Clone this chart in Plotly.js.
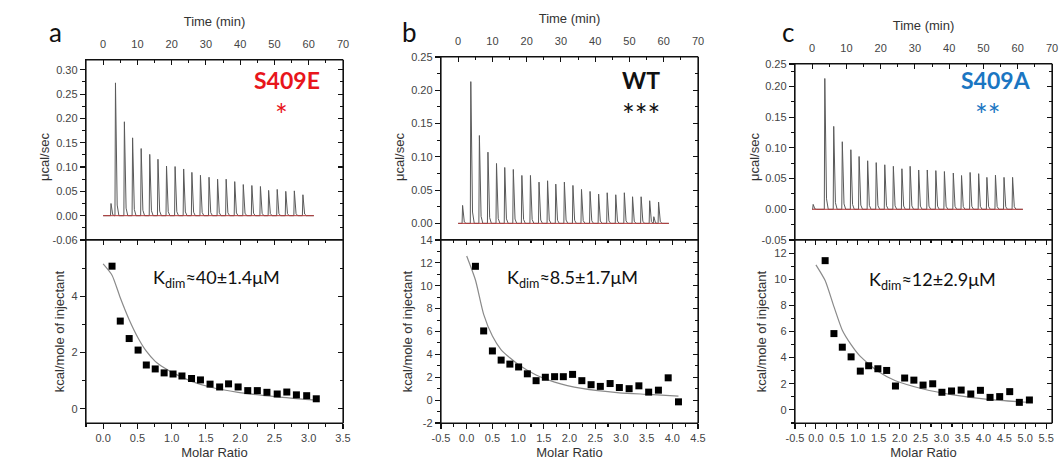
<!DOCTYPE html>
<html><head><meta charset="utf-8">
<script src="https://cdn.plot.ly/plotly-3.0.1.min.js"></script>
<style>html,body{margin:0;padding:0;background:#fff}</style>
</head><body><div id="chart" style="width:1062px;height:468px"></div>
<script>
// ---------- DATA ----------
// raw ITC thermograms: injection times (min) and peak heights (µcal/sec)
const timeA  = [2.3, 3.6, 6.2, 8.6, 11.1, 13.6, 16.0, 18.5, 21.0, 23.5, 25.9, 28.4, 30.9, 33.4, 35.9, 38.4, 40.9, 43.4, 45.9, 48.3, 50.8, 53.3, 55.8, 58.3];
const powerA = [0.025, 0.273, 0.193, 0.160, 0.138, 0.126, 0.116, 0.102, 0.101, 0.096, 0.089, 0.083, 0.079, 0.075, 0.075, 0.070, 0.064, 0.062, 0.060, 0.052, 0.054, 0.050, 0.051, 0.043];
const timeB  = [1.3, 3.7, 6.2, 8.7, 11.2, 13.6, 16.1, 18.6, 21.1, 23.6, 26.1, 28.5, 31.0, 33.5, 36.0, 38.5, 41.0, 43.5, 46.0, 48.5, 50.9, 53.4, 55.9, 57.1, 58.5];
const powerB = [0.027, 0.213, 0.132, 0.107, 0.090, 0.084, 0.081, 0.072, 0.072, 0.062, 0.064, 0.059, 0.062, 0.057, 0.051, 0.048, 0.044, 0.046, 0.043, 0.046, 0.040, 0.040, 0.034, 0.010, 0.032];
const timeC  = [0.3, 3.7, 6.3, 8.8, 11.3, 13.7, 16.2, 18.7, 21.2, 23.7, 26.2, 28.6, 31.1, 33.6, 36.1, 38.6, 41.2, 43.6, 46.1, 48.6, 51.0, 53.5, 56.0, 58.5];
const powerC = [0.008, 0.213, 0.135, 0.110, 0.097, 0.086, 0.079, 0.076, 0.0725, 0.070, 0.066, 0.070, 0.064, 0.064, 0.063, 0.0615, 0.059, 0.055, 0.060, 0.058, 0.052, 0.0555, 0.052, 0.052];
const runEnd = [61.5, 61.5, 61.5];

// integrated heats (kcal/mole of injectant) vs molar ratio
const ratioA = [0.13, 0.25, 0.38, 0.51, 0.63, 0.76, 0.89, 1.02, 1.15, 1.29, 1.42, 1.56, 1.70, 1.83, 1.97, 2.11, 2.25, 2.39, 2.54, 2.68, 2.82, 2.97, 3.11];
const heatA  = [5.07, 3.12, 2.50, 2.09, 1.56, 1.42, 1.28, 1.24, 1.17, 1.08, 1.03, 0.88, 0.78, 0.89, 0.78, 0.65, 0.65, 0.59, 0.53, 0.60, 0.50, 0.47, 0.36];
const ratioB = [0.17, 0.33, 0.50, 0.67, 0.84, 1.01, 1.18, 1.35, 1.53, 1.71, 1.88, 2.06, 2.24, 2.42, 2.60, 2.79, 2.97, 3.16, 3.35, 3.54, 3.73, 3.92, 4.12];
const heatB  = [11.7, 6.05, 4.3, 3.5, 3.15, 2.9, 2.3, 1.7, 2.0, 2.05, 2.05, 2.25, 1.7, 1.35, 1.2, 1.45, 1.1, 1.0, 1.25, 0.7, 0.87, 1.95, -0.15];
const ratioC = [0.22, 0.43, 0.63, 0.84, 1.06, 1.26, 1.48, 1.69, 1.90, 2.12, 2.34, 2.56, 2.79, 3.01, 3.24, 3.47, 3.70, 3.93, 4.16, 4.39, 4.63, 4.86, 5.10];
const heatC  = [11.42, 5.84, 4.8, 4.06, 2.97, 3.38, 3.15, 3.02, 1.83, 2.44, 2.28, 1.9, 2.0, 1.35, 1.45, 1.52, 1.22, 1.5, 0.96, 1.02, 1.4, 0.58, 0.76];

// fitted dimer-dissociation curves
const fitXA = [0, 0.13, 0.25, 0.38, 0.51, 0.63, 0.76, 0.89, 1.02, 1.29, 1.56, 1.97, 2.54, 3.11];
const fitYA = [5.15, 4.75, 3.95, 3.17, 2.52, 2.05, 1.69, 1.46, 1.28, 0.98, 0.78, 0.59, 0.43, 0.31];
const fitXB = [0, 0.17, 0.33, 0.50, 0.67, 0.84, 1.01, 1.35, 1.71, 2.24, 2.97, 3.54, 4.12];
const fitYB = [12.6, 10.5, 7.5, 5.6, 4.4, 3.7, 3.1, 2.2, 1.57, 1.02, 0.64, 0.5, 0.35];
const fitXC = [0, 0.22, 0.43, 0.63, 0.84, 1.06, 1.48, 1.90, 2.56, 3.24, 4.16, 5.10];
const fitYC = [11.1, 9.9, 7.9, 6.1, 5.0, 4.1, 2.95, 2.23, 1.6, 1.17, 0.79, 0.58];

// labels
const panelLetters = ['a', 'b', 'c'];
const variantNames = ['S409E', 'WT', 'S409A'];
const significance = ['*', '***', '**'];
const kdimLabels   = ['K<sub>dim</sub>≈40±1.4μM', 'K<sub>dim</sub>≈8.5±1.7μM', 'K<sub>dim</sub>≈12±2.9μM'];
const powerTitle = 'μcal/sec';
const timeTickLabels = ['0', '10', '20', '30', '40', '50', '60', '70'];
const powerTickVals = [[-0.05, 0, 0.05, 0.10, 0.15, 0.20, 0.25, 0.30], [0, 0.05, 0.10, 0.15, 0.20, 0.25], [-0.05, 0, 0.05, 0.10, 0.15, 0.20, 0.2366]];
const powerTickText = [['-0.06', '0.00', '0.05', '0.10', '0.15', '0.20', '0.25', '0.30'], ['0.00', '0.05', '0.10', '0.15', '0.20', '0.25'], ['-0.05', '0.00', '0.05', '0.10', '0.15', '0.20', '0.25']];
const ratioTickText = [
  ['0.0', '0.5', '1.0', '1.5', '2.0', '2.5', '3.0', '3.5'],
  ['-0.5', '0.0', '0.5', '1.0', '1.5', '2.0', '2.5', '3.0', '3.5', '4.0', '4.5'],
  ['-0.5', '0.0', '0.5', '1.0', '1.5', '2.0', '2.5', '3.0', '3.5', '4.0', '4.5', '5.0', '5.5']];
const heatTickText = [
  ['0', '2', '4'],
  ['-2', '0', '2', '4', '6', '8', '10', '12', '14'],
  ['0', '2', '4', '6', '8', '10', '12']];

// ---------- STYLE / LAYOUT ----------
const W = 1062, H = 468;
const FONT = 'Liberation Sans, Arial, sans-serif';
const LFONT = 'Lato, Open Sans, sans-serif';
const AXC = '#111';
const variantColors = ['#e8151b', '#111111', '#1b76c2'];

const panels = [
  {frame: [86, 343], top: 60, powerRange: [-0.05, 0.320], ratioRange: [-0.25, 3.5], heatRange: [-0.5, 6], r: timeA, p: powerA, rx: ratioA, hy: heatA, fx: fitXA, fy: fitYA},
  {frame: [441, 698], top: 57, powerRange: [-0.025, 0.25], ratioRange: [-0.5, 4.5], heatRange: [-2, 14], r: timeB, p: powerB, rx: ratioB, hy: heatB, fx: fitXB, fy: fitYB},
  {frame: [795, 1052], top: 64, powerRange: [-0.05, 0.2366], ratioRange: [-0.5, 5.64], heatRange: [-1, 13], r: timeC, p: powerC, rx: ratioC, hy: heatC, fx: fitXC, fy: fitYC}
];

// spike shape used to draw each injection peak from its time and height
const SPIKE_DT = [-0.15, 0, 0.2, 0.5, 1.0];
const SPIKE_F  = [0, 1, 0.35, 0.08, 0];
function thermogram(times, heights, tEnd) {
  const x = [0], y = [0];
  times.forEach((tt, i) => SPIKE_DT.forEach((d, j) => { x.push(tt + d); y.push(heights[i] * SPIKE_F[j]); }));
  x.push(tEnd); y.push(0);
  return {x, y};
}

function ax(extra) {
  return Object.assign({
    showline: true, linecolor: AXC, linewidth: 1.2, mirror: false, showgrid: false, zeroline: false,
    ticklen: 5, tickwidth: 1.1, tickcolor: AXC, fixedrange: true,
    tickfont: {family: FONT, size: 11, color: '#444'}
  }, extra);
}
const titleFont = {family: FONT, size: 13, color: '#333'};
const xid = n => n === 1 ? 'x' : 'x' + n, yid = n => n === 1 ? 'y' : 'y' + n;
const xkey = n => n === 1 ? 'xaxis' : 'xaxis' + n, ykey = n => n === 1 ? 'yaxis' : 'yaxis' + n;

const layout = {width: W, height: H, margin: {l: 0, r: 0, t: 0, b: 0}, showlegend: false,
  paper_bgcolor: '#fff', plot_bgcolor: 'rgba(0,0,0,0)', annotations: [], shapes: []};
const traces = [];

panels.forEach((P, i) => {
  const xT = i * 3 + 1, xB = i * 3 + 2, xB2 = i * 3 + 3;
  const yT = i * 4 + 1, yTR = i * 4 + 2, yB = i * 4 + 3, yBR = i * 4 + 4;
  const xd = [P.frame[0] / W, P.frame[1] / W];
  const ydT = [1 - 240 / H, 1 - P.top / H];
  const ydB = [1 - 423 / H, 1 - 240 / H];

  layout[xkey(xT)] = ax({domain: xd, anchor: yid(yT), side: 'top', range: [-5, 70],
    tickmode: 'array', tickvals: timeTickLabels.map(Number), ticktext: timeTickLabels, ticks: 'inside', ticklabelstandoff: 6,
    minor: {ticks: 'inside', ticklen: 3, tickmode: 'linear', tick0: 0, dtick: 5, tickcolor: AXC},
    title: {text: 'Time (min)', font: titleFont, standoff: 8}});
  layout[ykey(yT)] = ax({domain: ydT, anchor: xid(xT), side: 'left', range: P.powerRange,
    tickmode: 'array', tickvals: powerTickVals[i], ticktext: powerTickText[i], ticks: 'outside',
    minor: {ticks: 'outside', ticklen: 3, tickmode: 'linear', tick0: 0, dtick: 0.025, tickcolor: AXC}});
  // right-hand twin of the power axis (inward ticks)
  layout[ykey(yTR)] = ax({domain: ydT, anchor: xid(xT), side: 'right', range: P.powerRange,
    tickmode: 'linear', tick0: 0, dtick: 0.05, ticks: 'inside', showticklabels: false,
    minor: {ticks: 'inside', ticklen: 3, tickmode: 'linear', tick0: 0, dtick: 0.025, tickcolor: AXC}});
  layout[xkey(xB)] = ax({domain: xd, anchor: yid(yB), side: 'bottom', range: P.ratioRange,
    tickmode: 'array', tickvals: ratioTickText[i].map(Number), ticktext: ratioTickText[i], ticks: 'outside',
    minor: {ticks: 'outside', ticklen: 3, tickmode: 'linear', tick0: 0, dtick: 0.25, tickcolor: AXC},
    title: {text: 'Molar Ratio', font: titleFont, standoff: 4}});
  // top twin of the molar-ratio axis (inward ticks)
  layout[xkey(xB2)] = ax({domain: xd, anchor: yid(yBR), side: 'top', range: P.ratioRange,
    tickmode: 'linear', tick0: 0, dtick: 0.5, ticks: 'inside', showticklabels: false,
    minor: {ticks: 'inside', ticklen: 3, tickmode: 'linear', tick0: 0, dtick: 0.25, tickcolor: AXC}});
  layout[ykey(yB)] = ax({domain: ydB, anchor: xid(xB), side: 'left', range: P.heatRange,
    tickmode: 'array', tickvals: heatTickText[i].map(Number), ticktext: heatTickText[i], ticks: 'outside',
    minor: {ticks: 'outside', ticklen: 3, tickmode: 'linear', tick0: 0, dtick: 1, tickcolor: AXC},
    title: {text: 'kcal/mole of injectant', font: titleFont, standoff: 4}});
  // right twin of the heat axis (inward ticks)
  layout[ykey(yBR)] = ax({domain: ydB, anchor: xid(xB2), side: 'right', range: P.heatRange,
    tickmode: 'linear', tick0: 0, dtick: 2, ticks: 'inside', showticklabels: false,
    minor: {ticks: 'inside', ticklen: 3, tickmode: 'linear', tick0: 0, dtick: 1, tickcolor: AXC}});

  const th = thermogram(P.r, P.p, runEnd[i]);
  traces.push({type: 'scatter', mode: 'lines', x: th.x, y: th.y, xaxis: xid(xT), yaxis: yid(yT),
    line: {color: '#5a5a5a', width: 1}, hoverinfo: 'skip'});
  traces.push({type: 'scatter', mode: 'lines', x: [0, runEnd[i]], y: [0, 0], xaxis: xid(xT), yaxis: yid(yT),
    line: {color: '#b53a3a', width: 1}, hoverinfo: 'skip'});
  traces.push({type: 'scatter', mode: 'lines', x: P.fx, y: P.fy, xaxis: xid(xB), yaxis: yid(yB),
    line: {color: '#8a8a8a', width: 1.2, shape: 'spline', smoothing: 0.6}, hoverinfo: 'skip'});
  traces.push({type: 'scatter', mode: 'markers', x: P.rx, y: P.hy, xaxis: xid(xB), yaxis: yid(yB),
    marker: {symbol: 'square', size: 7, color: '#000'}, hoverinfo: 'skip'});
  // empty traces on the twin axes so their frame lines and ticks are drawn
  traces.push({type: 'scatter', mode: 'markers', x: [null], y: [null], xaxis: xid(xT), yaxis: yid(yTR), hoverinfo: 'skip'});
  traces.push({type: 'scatter', mode: 'markers', x: [null], y: [null], xaxis: xid(xB2), yaxis: yid(yBR), hoverinfo: 'skip'});

  // box frames around both sub-plots
  [[P.top, 240], [240, 423]].forEach(([t0, t1]) => layout.shapes.push({type: 'rect', xref: 'paper', yref: 'paper',
    x0: xd[0], x1: xd[1], y0: 1 - t1 / H, y1: 1 - t0 / H, line: {color: AXC, width: 1.2}, fillcolor: 'rgba(0,0,0,0)', layer: 'above'}));
});

// annotations (pixel positions converted to paper coords)
const letterX = [55, 409, 788], nameX = [287, 641, 996], starX = [281, 641, 988], kX = [216, 572, 932], kY = [278, 278, 280];
const powerTitleX = [45, 400, 755];
const pxA = (x, y, extra) => Object.assign({xref: 'paper', yref: 'paper', x: x / W, y: 1 - y / H,
  xanchor: 'center', yanchor: 'middle', showarrow: false}, extra);
panels.forEach((P, i) => {
  layout.annotations.push(pxA(powerTitleX[i], 157, {text: powerTitle, textangle: -90, font: titleFont}));
  layout.annotations.push(pxA(letterX[i], 32, {text: panelLetters[i], font: {family: LFONT, size: 26, color: '#111'}}));
  layout.annotations.push(pxA(nameX[i], 80, {text: '<b>' + variantNames[i] + '</b>', font: {family: LFONT, size: 23, color: variantColors[i]}}));
  layout.annotations.push(pxA(starX[i], 114, {text: significance[i], font: {family: LFONT, size: 30, color: variantColors[i]}}));
  layout.annotations.push(pxA(kX[i], kY[i], {text: kdimLabels[i], font: {family: LFONT, size: 18, color: '#111'}}));
});

Plotly.newPlot('chart', traces, layout, {staticPlot: true, displayModeBar: false});
</script></body></html>
